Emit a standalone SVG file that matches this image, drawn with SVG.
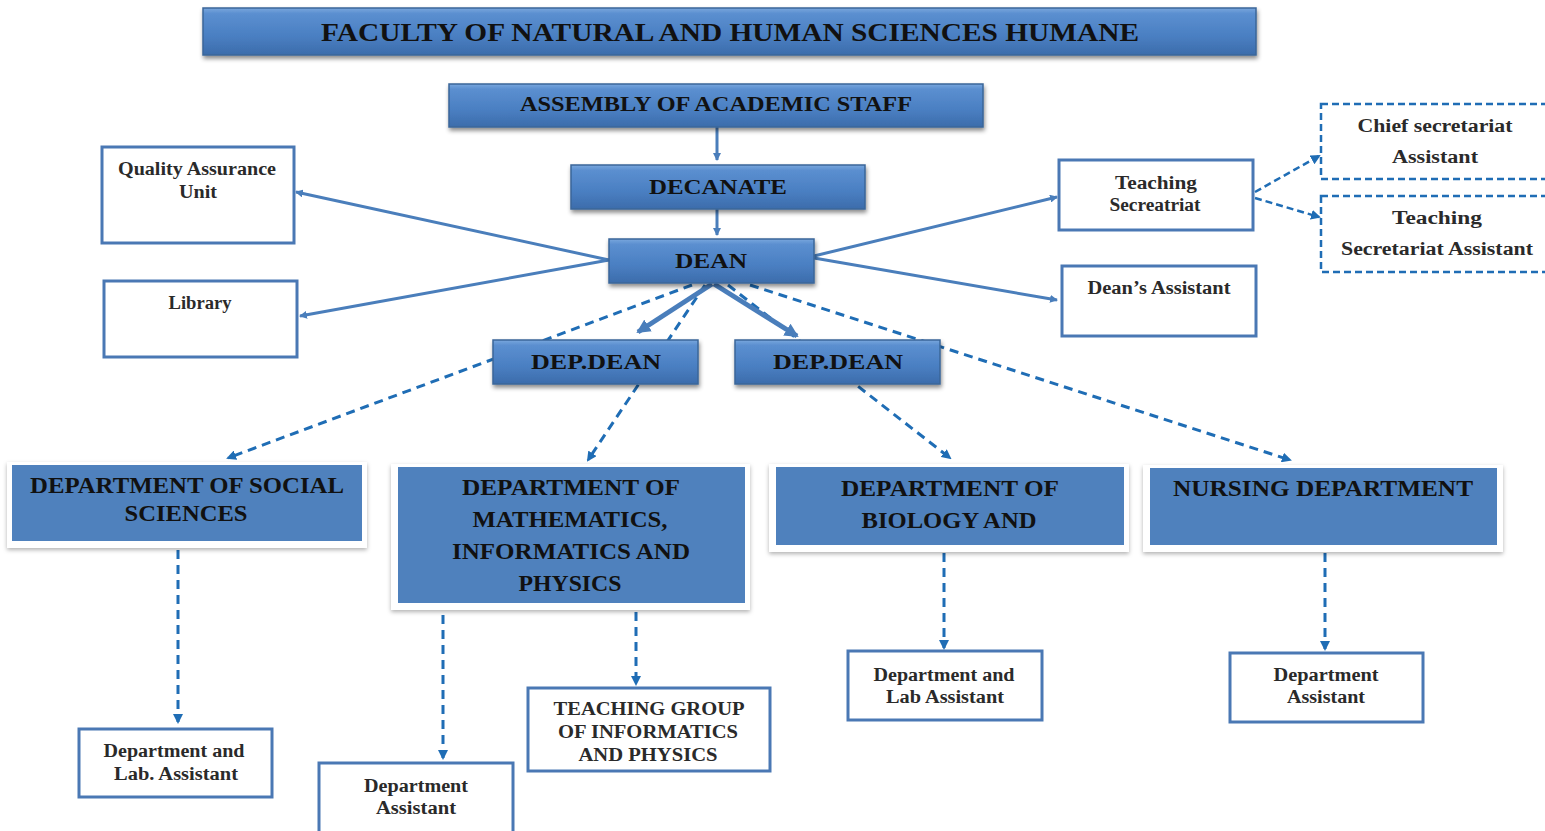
<svg xmlns="http://www.w3.org/2000/svg" width="1545" height="831" viewBox="0 0 1545 831">
<defs>
<linearGradient id="hdr" x1="0" y1="0" x2="0" y2="1">
<stop offset="0" stop-color="#7aa7dd"/>
<stop offset="0.12" stop-color="#5b8fd0"/>
<stop offset="0.6" stop-color="#4a7fc2"/>
<stop offset="1" stop-color="#3c6cab"/>
</linearGradient>
<filter id="sh" x="-5%" y="-20%" width="110%" height="150%">
<feDropShadow dx="1" dy="3" stdDeviation="2" flood-color="#000" flood-opacity="0.45"/>
</filter>
<filter id="sh2" x="-5%" y="-10%" width="110%" height="130%">
<feDropShadow dx="0" dy="2" stdDeviation="2" flood-color="#000" flood-opacity="0.3"/>
</filter>
<marker id="as" markerWidth="8" markerHeight="8" refX="7" refY="4" orient="auto" markerUnits="userSpaceOnUse">
<path d="M0,0 L8,4 L0,8 z" fill="#4a7ebb"/>
</marker>
<marker id="asb" markerWidth="14" markerHeight="14" refX="12" refY="7" orient="auto" markerUnits="userSpaceOnUse">
<path d="M0,0 L14,7 L0,14 z" fill="#4a7ebb"/>
</marker>
<marker id="ad" markerWidth="10" markerHeight="10" refX="8" refY="5" orient="auto" markerUnits="userSpaceOnUse">
<path d="M0,0 L10,5 L0,10 z" fill="#1f6db5"/>
</marker>
</defs>
<style>
.hdr{fill:url(#hdr);stroke:#3a6699;stroke-width:1.5;filter:url(#sh)}
.ht{font-family:"Liberation Serif","Times New Roman",serif;font-weight:bold;fill:#111;text-anchor:middle}
.wb{fill:#fff;stroke:#4a78b4;stroke-width:3}
.db{fill:#fff;stroke:#1f6db5;stroke-width:2.5;stroke-dasharray:7,4}
.st{font-family:"Liberation Serif","Times New Roman",serif;font-weight:bold;fill:#2a2a2a;text-anchor:middle;font-size:18px}
.dframe{fill:#fff;filter:url(#sh2)}
.dept{fill:#4f81bd}
.dt{font-family:"Liberation Serif","Times New Roman",serif;font-weight:bold;fill:#111;text-anchor:middle;font-size:24px}
.sc{stroke:#4a7ebb;stroke-width:3;fill:none}
.dc{stroke:#1f6db5;stroke-width:3;fill:none;stroke-dasharray:9,6}
</style>
<rect width="1545" height="831" fill="#fff"/>
<g id="connectors">
<line class="sc" x1="717" y1="127" x2="717" y2="160" marker-end="url(#as)"/>
<line class="sc" x1="717" y1="209" x2="717" y2="235" marker-end="url(#as)"/>
<line class="sc" x1="609" y1="260" x2="296" y2="192" marker-end="url(#as)"/>
<line class="sc" x1="609" y1="260" x2="300" y2="316" marker-end="url(#as)"/>
<line class="sc" x1="814" y1="256" x2="1057" y2="197" marker-end="url(#as)"/>
<line class="sc" x1="814" y1="258" x2="1057" y2="300" marker-end="url(#as)"/>
<line class="dc" x1="692" y1="285" x2="228" y2="458" marker-end="url(#ad)"/>
<line class="dc" x1="705" y1="285" x2="588" y2="460" marker-end="url(#ad)"/>
<line class="dc" x1="728" y1="285" x2="950" y2="458" marker-end="url(#ad)"/>
<line class="dc" x1="750" y1="285" x2="1290" y2="460" marker-end="url(#ad)"/>
<line x1="712" y1="284" x2="638" y2="332" stroke="#4a7ebb" stroke-width="5" marker-end="url(#asb)"/>
<line x1="714" y1="284" x2="797" y2="336" stroke="#4a7ebb" stroke-width="5" marker-end="url(#asb)"/>
<line class="dc" x1="178" y1="550" x2="178" y2="722" marker-end="url(#ad)"/>
<line class="dc" x1="443" y1="615" x2="443" y2="758" marker-end="url(#ad)"/>
<line class="dc" x1="636" y1="612" x2="636" y2="684" marker-end="url(#ad)"/>
<line class="dc" x1="944" y1="553" x2="944" y2="648" marker-end="url(#ad)"/>
<line class="dc" x1="1325" y1="553" x2="1325" y2="649" marker-end="url(#ad)"/>
<line x1="1255" y1="192" x2="1319" y2="156" stroke="#1f6db5" stroke-width="2.5" stroke-dasharray="7,4" marker-end="url(#ad)"/>
<line x1="1255" y1="198" x2="1319" y2="217" stroke="#1f6db5" stroke-width="2.5" stroke-dasharray="7,4" marker-end="url(#ad)"/>
</g>
<g id="faculty">
<rect class="hdr" x="203" y="8" width="1053" height="47"/>
<text class="ht" x="730" y="41" font-size="26" textLength="818" lengthAdjust="spacingAndGlyphs">FACULTY OF NATURAL AND HUMAN SCIENCES HUMANE</text>
</g>
<g id="assembly">
<rect class="hdr" x="449" y="84" width="534" height="43"/>
<text class="ht" x="716" y="111" font-size="20" textLength="392" lengthAdjust="spacingAndGlyphs">ASSEMBLY OF ACADEMIC STAFF</text>
</g>
<g id="decanate">
<rect class="hdr" x="571" y="165" width="294" height="44"/>
<text class="ht" x="718" y="194" font-size="21" textLength="138" lengthAdjust="spacingAndGlyphs">DECANATE</text>
</g>
<g id="dean">
<rect class="hdr" x="609" y="239" width="205" height="44"/>
<text class="ht" x="711" y="268" font-size="21" textLength="72" lengthAdjust="spacingAndGlyphs">DEAN</text>
</g>
<g id="depdean1">
<rect class="hdr" x="493" y="340" width="205" height="44"/>
<text class="ht" x="596" y="369" font-size="21" textLength="130" lengthAdjust="spacingAndGlyphs">DEP.DEAN</text>
</g>
<g id="depdean2">
<rect class="hdr" x="735" y="340" width="205" height="44"/>
<text class="ht" x="838" y="369" font-size="21" textLength="130" lengthAdjust="spacingAndGlyphs">DEP.DEAN</text>
</g>
<g id="qa">
<rect class="wb" x="102" y="147" width="192" height="96"/>
<text class="st" x="197" y="175" textLength="158" lengthAdjust="spacingAndGlyphs">Quality Assurance</text>
<text class="st" x="198" y="198" textLength="38" lengthAdjust="spacingAndGlyphs">Unit</text>
</g>
<g id="library">
<rect class="wb" x="104" y="281" width="193" height="76"/>
<text class="st" x="200" y="309" textLength="63" lengthAdjust="spacingAndGlyphs">Library</text>
</g>
<g id="teachsec">
<rect class="wb" x="1059" y="160" width="194" height="70"/>
<text class="st" x="1156" y="189" textLength="82" lengthAdjust="spacingAndGlyphs">Teaching</text>
<text class="st" x="1155" y="211" textLength="91" lengthAdjust="spacingAndGlyphs">Secreatriat</text>
</g>
<g id="deansasst">
<rect class="wb" x="1062" y="266" width="194" height="70"/>
<text class="st" x="1159" y="294" textLength="143" lengthAdjust="spacingAndGlyphs">Dean’s Assistant</text>
</g>
<g id="chief">
<rect class="db" x="1321" y="104" width="230" height="75"/>
<text class="st" x="1435" y="132" font-size="21" textLength="155" lengthAdjust="spacingAndGlyphs">Chief secretariat</text>
<text class="st" x="1435" y="163" font-size="21" textLength="86" lengthAdjust="spacingAndGlyphs">Assistant</text>
</g>
<g id="teachsecasst">
<rect class="db" x="1321" y="196" width="230" height="76"/>
<text class="st" x="1437" y="224" font-size="21" textLength="90" lengthAdjust="spacingAndGlyphs">Teaching</text>
<text class="st" x="1437" y="255" font-size="21" textLength="192" lengthAdjust="spacingAndGlyphs">Secretariat Assistant</text>
</g>
<g id="social">
<rect class="dframe" x="7" y="462" width="360" height="86"/>
<rect class="dept" x="12" y="465" width="350" height="76"/>
<text class="dt" x="187" y="493" textLength="314" lengthAdjust="spacingAndGlyphs">DEPARTMENT OF SOCIAL</text>
<text class="dt" x="186" y="521" textLength="123" lengthAdjust="spacingAndGlyphs">SCIENCES</text>
</g>
<g id="math">
<rect class="dframe" x="391" y="464" width="359" height="146"/>
<rect class="dept" x="398" y="467" width="347" height="136"/>
<text class="dt" x="571" y="495" textLength="218" lengthAdjust="spacingAndGlyphs">DEPARTMENT OF</text>
<text class="dt" x="570" y="527" textLength="195" lengthAdjust="spacingAndGlyphs">MATHEMATICS,</text>
<text class="dt" x="571" y="559" textLength="238" lengthAdjust="spacingAndGlyphs">INFORMATICS AND</text>
<text class="dt" x="570" y="591" textLength="103" lengthAdjust="spacingAndGlyphs">PHYSICS</text>
</g>
<g id="biology">
<rect class="dframe" x="769" y="464" width="360" height="88"/>
<rect class="dept" x="776" y="467" width="348" height="78"/>
<text class="dt" x="950" y="496" textLength="218" lengthAdjust="spacingAndGlyphs">DEPARTMENT OF</text>
<text class="dt" x="949" y="528" textLength="175" lengthAdjust="spacingAndGlyphs">BIOLOGY AND</text>
</g>
<g id="nursing">
<rect class="dframe" x="1143" y="465" width="360" height="87"/>
<rect class="dept" x="1150" y="468" width="347" height="77"/>
<text class="dt" x="1323" y="496" textLength="300" lengthAdjust="spacingAndGlyphs">NURSING DEPARTMENT</text>
</g>
<g id="soc-asst">
<rect class="wb" x="79" y="729" width="193" height="68"/>
<text class="st" x="174" y="757" textLength="141" lengthAdjust="spacingAndGlyphs">Department and</text>
<text class="st" x="176" y="780" textLength="124" lengthAdjust="spacingAndGlyphs">Lab. Assistant</text>
</g>
<g id="math-asst">
<rect class="wb" x="319" y="763" width="194" height="70"/>
<text class="st" x="416" y="792" textLength="104" lengthAdjust="spacingAndGlyphs">Department</text>
<text class="st" x="416" y="814" textLength="80" lengthAdjust="spacingAndGlyphs">Assistant</text>
</g>
<g id="teachgroup">
<rect class="wb" x="528" y="688" width="242" height="83"/>
<text class="st" x="649" y="715" textLength="191" lengthAdjust="spacingAndGlyphs">TEACHING GROUP</text>
<text class="st" x="648" y="738" textLength="180" lengthAdjust="spacingAndGlyphs">OF INFORMATICS</text>
<text class="st" x="648" y="761" textLength="139" lengthAdjust="spacingAndGlyphs">AND PHYSICS</text>
</g>
<g id="bio-asst">
<rect class="wb" x="848" y="651" width="194" height="69"/>
<text class="st" x="944" y="681" textLength="141" lengthAdjust="spacingAndGlyphs">Department and</text>
<text class="st" x="945" y="703" textLength="118" lengthAdjust="spacingAndGlyphs">Lab Assistant</text>
</g>
<g id="nurs-asst">
<rect class="wb" x="1230" y="653" width="193" height="69"/>
<text class="st" x="1326" y="681" textLength="105" lengthAdjust="spacingAndGlyphs">Department</text>
<text class="st" x="1326" y="703" textLength="78" lengthAdjust="spacingAndGlyphs">Assistant</text>
</g>
</svg>
